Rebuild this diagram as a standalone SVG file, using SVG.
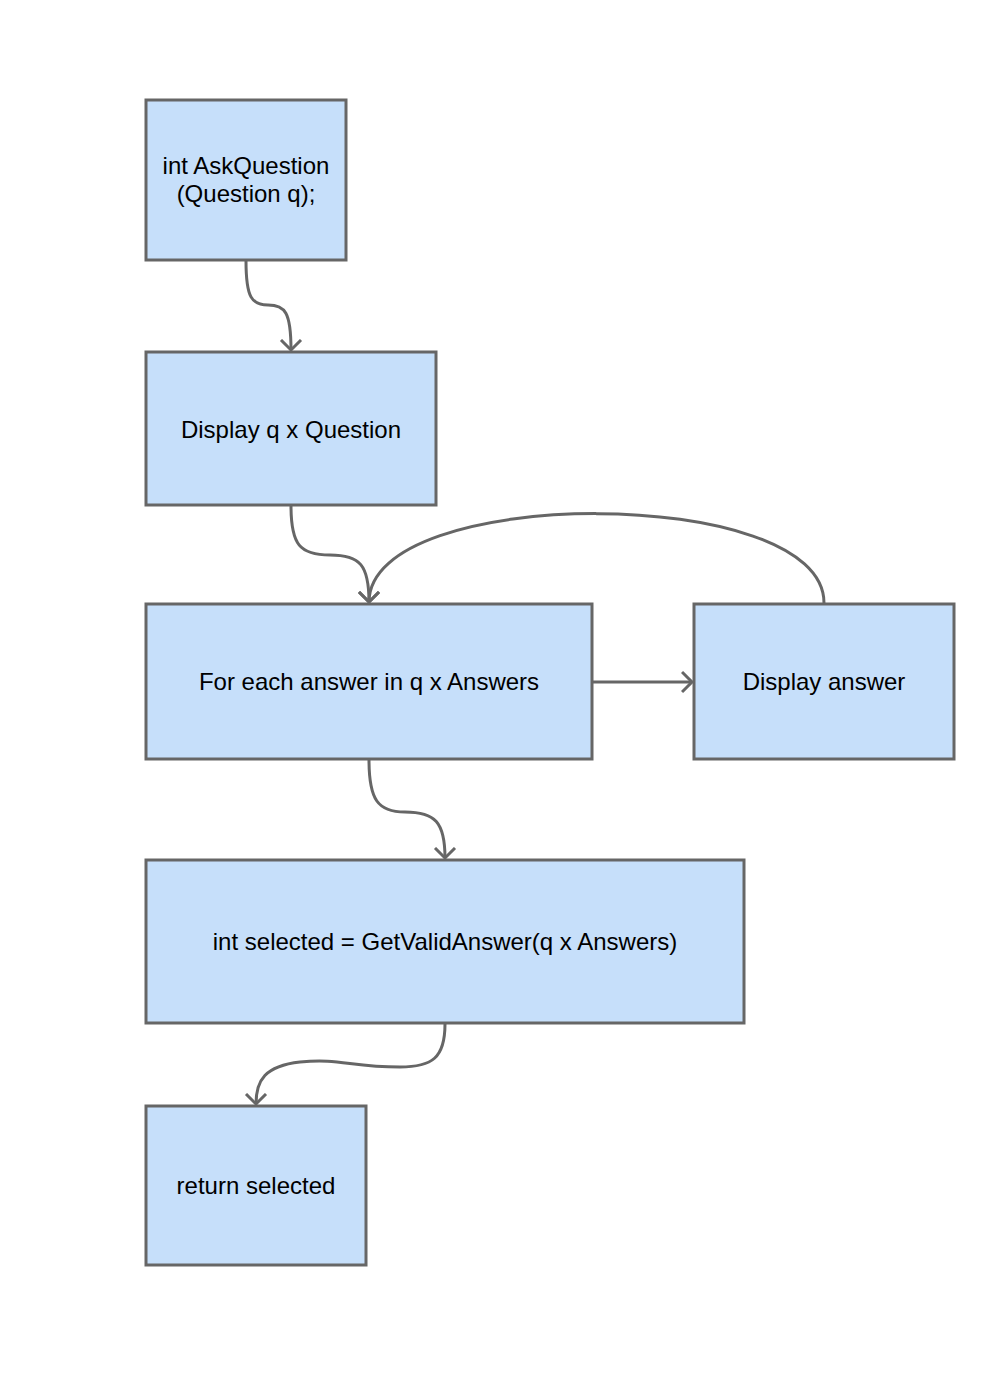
<svg xmlns="http://www.w3.org/2000/svg" width="1000" height="1400" viewBox="0 0 1000 1400">
<style>
.box{fill:#c6dffa;stroke:#666666;stroke-width:3}
.lbl{font-family:"Liberation Sans",Arial,sans-serif;font-size:24px;fill:#000;text-anchor:middle}
.edge{fill:none;stroke:#666666;stroke-width:3}
</style>
<defs>
<marker id="arr" markerUnits="userSpaceOnUse" markerWidth="16" markerHeight="24" refX="11" refY="12" orient="auto">
<path d="M1,2 L11,12 L1,22" fill="none" stroke="#666666" stroke-width="3"/>
</marker>
</defs>
<rect width="1000" height="1400" fill="#ffffff"/>
<g id="connectors">
<path class="edge" d="M246,261 C246,298 252,305 268,305 C285,305 291,312 291,350" marker-end="url(#arr)"/>
<path class="edge" d="M291,506 C291,545 300,555 330,555 C360,555 369,565 369,602" marker-end="url(#arr)"/>
<path class="edge" d="M592,682 L692,682" marker-end="url(#arr)"/>
<path class="edge" d="M824,603 C824,484 369,484 369,602" marker-end="url(#arr)"/>
<path class="edge" d="M369,760 C369,800 378,812 405,812 C435,812 445,822 445,858" marker-end="url(#arr)"/>
<path class="edge" d="M445,1024 C445,1058 432,1067 400,1067 C350,1067 340,1058 300,1062 C265,1066 256,1080 256,1104" marker-end="url(#arr)"/>
</g>
<g id="n1"><rect class="box" x="146" y="100" width="200" height="160"/>
<text class="lbl" x="246" y="174">int AskQuestion</text><text class="lbl" x="246" y="202">(Question q);</text></g>
<g id="n2"><rect class="box" x="146" y="352" width="290" height="153"/>
<text class="lbl" x="291" y="438">Display q x Question</text></g>
<g id="n3"><rect class="box" x="146" y="604" width="446" height="155"/>
<text class="lbl" x="369" y="690">For each answer in q x Answers</text></g>
<g id="n4"><rect class="box" x="694" y="604" width="260" height="155"/>
<text class="lbl" x="824" y="690">Display answer</text></g>
<g id="n5"><rect class="box" x="146" y="860" width="598" height="163"/>
<text class="lbl" x="445" y="950">int selected = GetValidAnswer(q x Answers)</text></g>
<g id="n6"><rect class="box" x="146" y="1106" width="220" height="159"/>
<text class="lbl" x="256" y="1194">return selected</text></g>
</svg>
